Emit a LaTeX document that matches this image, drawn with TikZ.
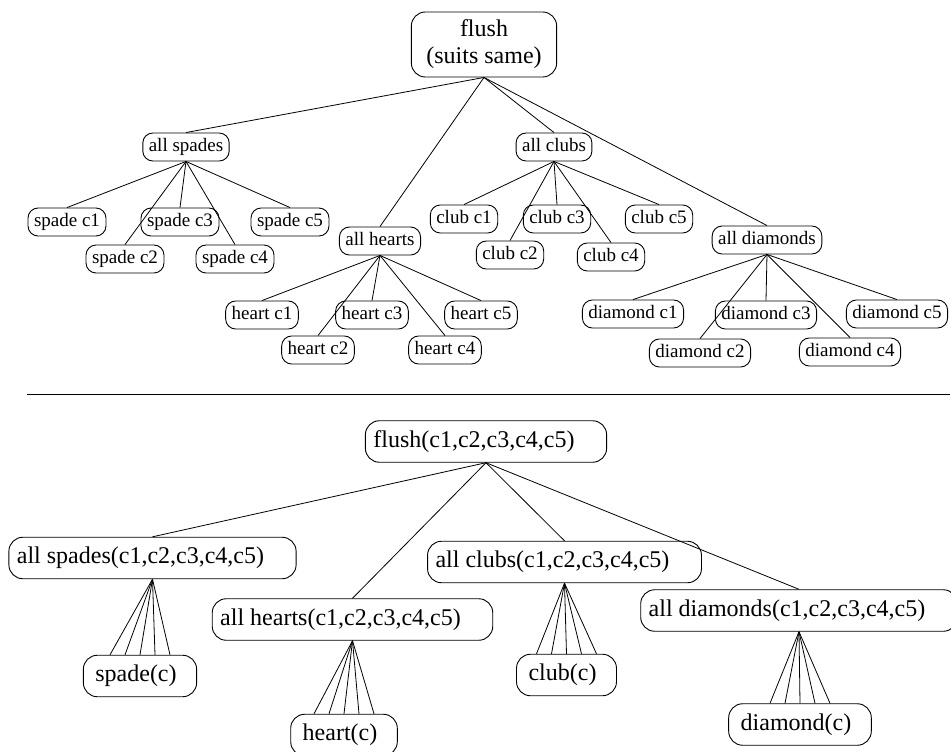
\documentclass[tikz,border=0pt]{standalone}
\usepackage{fontspec}
\setmainfont{Liberation Serif}
\newcommand{\smallsz}{\fontsize{19}{22}\selectfont}
\newcommand{\bigsz}{\fontsize{24}{27}\selectfont}
\tikzset{
  box/.style={draw, line width=0.9pt, rounded corners=10pt},
  leaf/.style={box, font=\smallsz, inner xsep=6pt, inner ysep=5pt,
    text height=13.5pt, text depth=4.5pt},
  topbox/.style={box, font=\bigsz, align=center, inner xsep=15pt,
    inner ysep=8pt, rounded corners=14pt},
  bigbase/.style={box, font=\bigsz, inner ysep=9.5pt, text height=17pt,
    text depth=5.5pt, rounded corners=14pt},
  predbox/.style={bigbase, inner xsep=8pt,
    execute at end node={\hspace{24pt}}},
  cardbox/.style={bigbase, inner xsep=12pt,
    execute at end node={\hspace{8pt}}},
  link/.style={line width=0.8pt},
}
\begin{document}
\begin{tikzpicture}[x=1pt, y=-1pt]
\useasboundingbox (0,0) rectangle (951,752);

%%%%%%%%%%%%%%%%%%%%%%%%%%%%%%%%%%%%%%%%%%%%%%%%%%%%%%%%%%%%%% top tree
\node[topbox] (root) at (484,44.5) {flush\\(suits same)};

\node[leaf] (spades) at (186,147) {all spades};
\node[leaf] (spades1) at (67,222) {spade c1};
\node[leaf] (spades2) at (125,259) {spade c2};
\node[leaf] (spades3) at (180,222) {spade c3};
\node[leaf] (spades4) at (235,259) {spade c4};
\node[leaf] (spades5) at (290,222) {spade c5};

\node[leaf] (hearts) at (380,241) {all hearts};
\node[leaf] (hearts1) at (262,315) {heart c1};
\node[leaf] (hearts2) at (318,350) {heart c2};
\node[leaf] (hearts3) at (372,315) {heart c3};
\node[leaf] (hearts4) at (445,350) {heart c4};
\node[leaf] (hearts5) at (481,315) {heart c5};

\node[leaf] (clubs) at (554,147) {all clubs};
\node[leaf] (clubs1) at (464,219) {club c1};
\node[leaf] (clubs2) at (510,255) {club c2};
\node[leaf] (clubs3) at (557,219) {club c3};
\node[leaf] (clubs4) at (611,257) {club c4};
\node[leaf] (clubs5) at (659,219) {club c5};

\node[leaf] (diamonds) at (767,240) {all diamonds};
\node[leaf] (diamonds1) at (633,314) {diamond c1};
\node[leaf] (diamonds2) at (700,353) {diamond c2};
\node[leaf] (diamonds3) at (766,315) {diamond c3};
\node[leaf] (diamonds4) at (850,352) {diamond c4};
\node[leaf] (diamonds5) at (897,314) {diamond c5};

\foreach \s in {spades,hearts,clubs,diamonds}{
  \draw[link] (root.south) -- (\s.north);
  \foreach \i in {1,...,5}
    \draw[link] (\s.south) -- (\s\i.north);
}

%%%%%%%%%%%%%%%%%%%%%%%%%%%%%%%%%%%%%%%%%%%%%%%%%%%%%%%%%%%%%% divider
\coordinate (divl) at (27,394);
\coordinate (divr) at (950,394);
\draw[link] (divl) -- (divr);

%%%%%%%%%%%%%%%%%%%%%%%%%%%%%%%%%%%%%%%%%%%%%%%%%%%%%%%%%%%%%% bottom tree
\node[predbox] (pflush) at (486,441.5) {flush(c1,c2,c3,c4,c5)};

\node[predbox] (pspades) at (152.5,558) {all spades(c1,c2,c3,c4,c5)};
\node[predbox] (phearts) at (352.5,619.5) {all hearts(c1,c2,c3,c4,c5)};
\node[predbox] (pclubs) at (564.5,562) {all clubs(c1,c2,c3,c4,c5)};
\node[predbox] (pdiamonds) at (799,610.5) {all diamonds(c1,c2,c3,c4,c5)};

\node[cardbox] (pspade) at (140,676) {spade(c)};
\node[cardbox] (pheart) at (344,735) {heart(c)};
\node[cardbox] (pclub) at (566.5,675) {club(c)};
\node[cardbox] (pdiamond) at (800,724.5) {diamond(c)};

\foreach \s/\c in {pspades/pspade,phearts/pheart,pclubs/pclub,pdiamonds/pdiamond}{
  \draw[link] (pflush.south) -- (\s.north);
  \foreach \dx in {-30,-15,0,15,30}
    \draw[link] (\s.south) -- ([xshift=\dx pt]\c.north);
}

\end{tikzpicture}
\end{document}
